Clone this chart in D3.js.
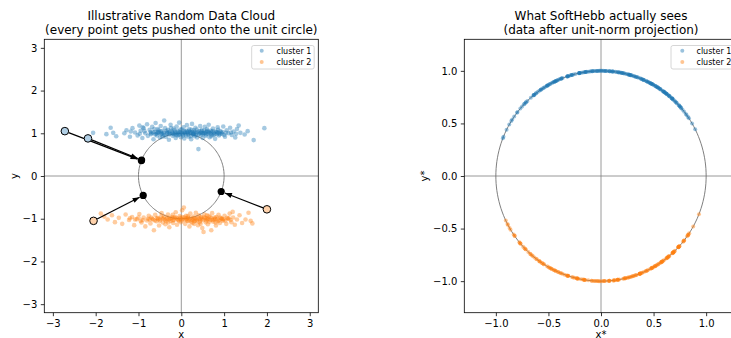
<!DOCTYPE html>
<html><head><meta charset="utf-8">
<script src="https://cdn.jsdelivr.net/npm/d3@7"></script>
<style>html,body{margin:0;padding:0;background:#fff;overflow:hidden}</style>
</head><body><div id="chart"></div>
<script>
// ---- data ----
const cluster1 = [
[-2.06,1.01],[-1.75,0.98],[-1.65,1.13],[-1.59,1.01],[-1.52,0.93],[-1.33,1.00],[-1.28,1.07],[-1.20,0.92],[-1.14,1.12],[-1.08,1.02],
[-1.02,0.95],[-0.98,1.18],[-0.95,1.06],[-0.91,0.89],[-0.88,1.12],[-0.84,1.00],[-0.80,1.21],[-0.78,0.94],[-0.74,1.08],[-0.71,0.98],
[-0.68,1.15],[-0.65,0.86],[-0.62,1.03],[-0.60,1.24],[-0.57,0.95],[-0.55,1.10],[-0.52,1.01],[-0.50,0.90],[-0.48,1.17],[-0.45,1.05],
[-0.43,0.97],[-0.40,1.30],[-0.38,1.12],[-0.36,0.92],[-0.34,1.02],[-0.31,1.08],[-0.29,0.85],[-0.27,0.99],[-0.25,1.20],[-0.22,1.04],
[-0.20,0.94],[-0.18,1.11],[-0.15,1.00],[-0.13,0.89],[-0.11,1.16],[-0.09,1.06],[-0.07,0.96],[-0.05,1.25],[-0.03,1.02],[-0.01,0.91],
[0.01,1.09],[0.03,0.98],[0.05,1.14],[0.07,0.88],[0.09,1.04],[0.11,0.95],[0.13,1.19],[0.15,1.01],[0.17,0.92],[0.19,1.10],
[0.21,1.03],[0.23,0.86],[0.25,1.22],[0.27,0.97],[0.29,1.07],[0.31,0.93],[0.33,1.13],[0.35,1.00],[0.37,0.90],[0.40,0.63],
[0.42,1.05],[0.44,1.17],[0.46,0.96],[0.48,1.08],[0.50,0.89],[0.52,1.01],[0.55,1.15],[0.57,0.94],[0.59,1.04],[0.62,0.99],
[0.64,1.20],[0.66,0.91],[0.69,1.06],[0.71,0.97],[0.74,1.11],[0.76,1.01],[0.79,0.87],[0.82,1.03],[0.85,1.14],[0.88,0.95],
[0.91,1.05],[0.95,0.99],[0.98,1.16],[1.02,0.92],[1.06,1.07],[1.10,1.00],[1.14,1.13],[1.18,0.96],[1.22,1.04],[1.26,0.90],
[1.30,1.10],[1.34,1.18],[1.38,1.01],[1.48,0.97],[1.55,1.05],[1.69,0.84],[1.94,1.12],
[-0.66,1.02],[-0.58,0.99],[-0.53,1.07],[-0.47,0.98],[-0.41,1.01],[-0.35,1.06],[-0.28,0.97],[-0.21,1.01],[-0.16,1.07],[-0.12,0.98],
[-0.06,1.03],[-0.02,1.09],[0.04,0.95],[0.08,1.01],[0.12,1.06],[0.16,0.98],[0.20,1.02],[0.24,1.08],[0.28,0.99],[0.32,1.03],
[0.36,1.09],[0.41,0.98],[0.45,1.02],[0.49,1.00],[0.53,1.06],[0.58,0.97],[0.63,1.03],[0.68,1.00],[0.73,1.05],[0.78,0.98],
[0.84,1.02],[0.90,0.98],[0.96,1.03],[1.04,1.01],[-0.72,1.03],[-0.86,1.05],[-0.97,0.99],[1.16,1.02],[1.28,0.99],[-0.44,0.92],
[0.60,1.10],[0.22,0.93],[-0.24,1.12],[-0.63,1.10],[0.86,1.08],[1.00,0.96],[-1.18,1.04],[-0.90,1.14],[0.70,0.93],[-0.10,0.95],
[-0.70,1.00],[-0.61,0.97],[-0.54,1.03],[-0.46,1.00],[-0.39,0.96],[-0.33,1.00],[-0.26,1.04],[-0.19,0.99],[-0.14,1.03],[-0.08,1.00],
[-0.04,0.97],[0.00,1.02],[0.06,1.05],[0.10,0.99],[0.14,1.03],[0.18,1.06],[0.22,1.00],[0.26,1.03],[0.30,1.01],[0.34,0.96],
[0.38,1.03],[0.43,1.00],[0.47,1.05],[0.51,0.98],[0.56,1.02],[0.61,1.06],[0.65,1.01],[0.70,1.03],[0.75,0.96],[0.80,1.04],
[0.83,0.98],[0.87,1.01],[0.93,1.02],[-0.56,1.02],[-0.48,1.04],[-0.30,1.02],[-0.17,0.97],[0.02,1.00],[0.29,0.98],[0.54,1.00],
[-2.72,1.05],[-2.18,0.88]
];
const cluster2 = [
[-1.88,-0.88],[-1.80,-0.95],[-1.72,-1.02],[-1.62,-0.92],[-1.55,-1.08],[-1.46,-0.98],[-1.38,-1.12],[-1.30,-0.90],[-1.22,-1.03],[-1.15,-0.96],
[-1.10,-1.15],[-1.04,-1.01],[-0.98,-0.89],[-0.93,-1.09],[-0.88,-0.97],[-0.84,-1.18],[-0.80,-1.04],[-0.76,-0.93],[-0.72,-1.11],[-0.68,-1.00],
[-0.64,-1.27],[-0.61,-0.91],[-0.58,-1.06],[-0.55,-0.98],[-0.52,-1.16],[-0.49,-1.02],[-0.46,-0.87],[-0.43,-1.09],[-0.40,-0.95],[-0.37,-1.13],
[-0.34,-1.01],[-0.31,-0.90],[-0.28,-1.20],[-0.25,-1.05],[-0.22,-0.96],[-0.19,-1.10],[-0.16,-0.99],[-0.13,-0.85],[-0.10,-1.14],[-0.07,-1.03],
[-0.04,-0.94],[-0.01,-1.08],[0.02,-0.80],[0.04,-1.00],[0.06,-0.74],[0.09,-1.12],[0.11,-0.93],[0.14,-1.05],[0.16,-0.97],[0.19,-1.18],
[0.21,-0.88],[0.24,-1.02],[0.26,-1.10],[0.29,-0.95],[0.31,-1.06],[0.34,-0.86],[0.36,-1.01],[0.39,-1.15],[0.41,-0.92],[0.44,-1.04],
[0.46,-0.98],[0.49,-1.22],[0.52,-1.31],[0.54,-0.90],[0.57,-1.08],[0.59,-0.99],[0.62,-1.13],[0.64,-0.94],[0.67,-1.03],[0.70,-1.27],
[0.72,-0.87],[0.75,-1.07],[0.78,-0.97],[0.81,-1.16],[0.84,-1.01],[0.87,-0.91],[0.90,-1.10],[0.94,-0.99],[0.97,-1.05],[1.01,-0.93],
[1.05,-1.12],[1.09,-1.00],[1.13,-0.88],[1.17,-1.08],[1.20,-0.84],[1.21,-0.97],[1.25,-1.14],[1.30,-1.02],[1.36,-0.92],[1.42,-1.10],
[1.50,-1.02],[1.57,-0.86],[1.62,-1.05],[1.66,-1.11],
[-0.66,-1.02],[-0.57,-0.99],[-0.50,-1.05],[-0.44,-0.99],[-0.38,-1.03],[-0.32,-0.97],[-0.26,-1.00],[-0.20,-1.04],[-0.15,-0.96],[-0.09,-1.01],
[-0.03,-0.98],[0.01,-1.04],[0.07,-0.97],[0.12,-1.01],[0.17,-1.06],[0.22,-0.98],[0.27,-1.03],[0.32,-0.99],[0.37,-1.05],[0.42,-1.00],
[0.47,-0.96],[0.51,-1.03],[0.56,-0.98],[0.61,-1.02],[0.66,-1.07],[0.71,-0.99],[0.76,-1.02],[0.82,-0.96],[0.88,-1.04],[0.93,-1.00],
[0.99,-1.02],[1.07,-0.98],[1.15,-1.03],[-0.74,-1.02],[-0.90,-1.03],[-1.00,-0.97],[-1.20,-0.99],[0.30,-1.12],[-0.20,-0.91],[0.60,-0.92],
[-0.70,-0.97],[-0.62,-1.04],[-0.54,-1.01],[-0.47,-0.95],[-0.41,-1.00],[-0.35,-1.06],[-0.29,-1.01],[-0.23,-0.99],[-0.17,-1.03],[-0.12,-0.98],
[-0.06,-1.05],[-0.02,-1.00],[0.03,-0.96],[0.08,-1.03],[0.13,-0.99],[0.18,-1.02],[0.23,-1.07],[0.28,-1.00],[0.33,-1.04],[0.38,-0.97],
[0.43,-1.08],[0.48,-1.01],[0.53,-0.97],[0.58,-1.04],[0.63,-1.00],[0.68,-0.96],[0.73,-1.03],[0.79,-1.00],[0.85,-1.06],[0.91,-0.97],
[0.96,-1.01],[1.03,-1.04],[1.11,-0.99],[-0.78,-1.00],[-0.95,-1.05],[-1.08,-1.02],[0.15,-0.94],[0.45,-1.12],[-0.30,-1.09],[0.80,-1.09],
[-2.05,-1.05],[2.00,-0.78]
];
const highlight1 = [[-2.72,1.05],[-2.18,0.88]];
const highlight2 = [[-2.05,-1.05],[2.00,-0.78]];
const ticksLeft = [-3,-2,-1,0,1,2,3];
const ticksRight = [-1.0,-0.5,0.0,0.5,1.0];
const seriesNames = ["cluster 1","cluster 2"];
const titlesLeft = ["Illustrative Random Data Cloud","(every point gets pushed onto the unit circle)"];
const titlesRight = ["What SoftHebb actually sees","(data after unit-norm projection)"];

// ---- drawing ----
const W=731,H=338;
const C1="#1f77b4", C2="#ff7f0e";
const svg=d3.select("#chart").append("svg").attr("width",W).attr("height",H)
  .style("font-family","'DejaVu Sans', sans-serif");
const defs=svg.append("defs");
defs.append("marker").attr("id","ah").attr("viewBox","-8 -4 9 8").attr("refX",0).attr("refY",0)
  .attr("markerWidth",9).attr("markerHeight",8).attr("markerUnits","userSpaceOnUse").attr("orient","auto")
  .append("path").attr("d","M0,0 L-7,-2.6 L-7,2.6 Z").attr("fill","#000");

const norm=p=>{const r=Math.hypot(p[0],p[1]);return [p[0]/r,p[1]/r];};

function panel(opt){
  const x=d3.scaleLinear().domain(opt.dom).range([opt.x0,opt.x1]);
  const y=d3.scaleLinear().domain(opt.dom).range([opt.y1,opt.y0]);
  const g=svg.append("g");
  const cid="clip"+opt.id;
  defs.append("clipPath").attr("id",cid).append("rect")
    .attr("x",opt.x0).attr("y",opt.y0).attr("width",opt.x1-opt.x0).attr("height",opt.y1-opt.y0);
  const plot=g.append("g").attr("clip-path",`url(#${cid})`);
  plot.append("line").attr("x1",opt.x0).attr("x2",opt.x1).attr("y1",y(0)).attr("y2",y(0))
    .attr("stroke","#808080").attr("stroke-width",1).attr("opacity",0.8);
  plot.append("line").attr("y1",opt.y0).attr("y2",opt.y1).attr("x1",x(0)).attr("x2",x(0))
    .attr("stroke","#808080").attr("stroke-width",0.8);
  const circ=d3.range(0,361,2).map(a=>[Math.cos(a*Math.PI/180),Math.sin(a*Math.PI/180)]);
  plot.append("path").attr("d",d3.line().x(d=>x(d[0])).y(d=>y(d[1]))(circ))
    .attr("fill","none").attr("stroke",opt.circColor).attr("stroke-width",opt.circW);
  const fmt=opt.fmt;
  const ax=g.append("g").attr("transform",`translate(0,${opt.y1})`)
    .call(d3.axisBottom(x).tickValues(opt.ticks).tickFormat(fmt).tickSize(3.5).tickPadding(3.5).tickSizeOuter(0));
  const ay=g.append("g").attr("transform",`translate(${opt.x0},0)`)
    .call(d3.axisLeft(y).tickValues(opt.ticks).tickFormat(fmt).tickSize(3.5).tickPadding(3.5).tickSizeOuter(0));
  [ax,ay].forEach(a=>{a.select(".domain").remove();
    a.selectAll("line").attr("stroke","#000").attr("stroke-width",0.8);
    a.selectAll("text").attr("fill","#000").style("font-size","10px").style("font-family","'DejaVu Sans', sans-serif");});
  g.append("rect").attr("x",opt.x0).attr("y",opt.y0).attr("width",opt.x1-opt.x0).attr("height",opt.y1-opt.y0)
    .attr("fill","none").attr("stroke","#000").attr("stroke-width",0.8);
  const cx=x(0);
  opt.titles.forEach((t,i)=>g.append("text").attr("x",cx).attr("y",20+i*13.5).attr("text-anchor","middle")
    .style("font-size","12px").attr("fill","#000").text(t));
  g.append("text").attr("x",cx).attr("y",337.5).attr("text-anchor","middle").style("font-size","10px").text(opt.xl);
  g.append("text").attr("transform",`translate(${opt.ylx},${(opt.y0+opt.y1)/2}) rotate(-90)`)
    .attr("text-anchor","middle").style("font-size","10px").text(opt.yl);
  return {x,y,g,plot};
}

// Left panel
const L=panel({id:"L",dom:[-3.2,3.2],x0:44.3,x1:318.3,y0:39.3,y1:312.7,ticks:ticksLeft,fmt:d3.format("d"),
  titles:titlesLeft,xl:"x",yl:"y",ylx:18,circColor:"#808080",circW:1});
[[cluster1,C1],[cluster2,C2]].forEach(([data,c])=>{
  L.plot.append("g").selectAll("circle").data(data).join("circle")
    .attr("cx",d=>L.x(d[0])).attr("cy",d=>L.y(d[1])).attr("r",2.3).attr("fill",c).attr("opacity",0.4);
});
[highlight1,highlight2].forEach(data=>{
  data.forEach(p=>{
    const q=norm(p);
    const x1=L.x(p[0]),y1=L.y(p[1]),x2=L.x(q[0]),y2=L.y(q[1]);
    const dx=x2-x1,dy=y2-y1,len=Math.hypot(dx,dy);
    L.plot.append("line").attr("x1",x1+dx/len*4).attr("y1",y1+dy/len*4)
      .attr("x2",x2-dx/len*4).attr("y2",y2-dy/len*4)
      .attr("stroke","#000").attr("stroke-width",1.2).attr("marker-end","url(#ah)");
  });
});
[[highlight1,C1],[highlight2,C2]].forEach(([data,c])=>{
  L.plot.append("g").selectAll("circle").data(data).join("circle")
    .attr("cx",d=>L.x(d[0])).attr("cy",d=>L.y(d[1])).attr("r",3.8)
    .attr("fill",d3.interpolateRgb("#fff",c)(0.35)).attr("stroke","#000").attr("stroke-width",1);
  L.plot.append("g").selectAll("circle").data(data.map(norm)).join("circle")
    .attr("cx",d=>L.x(d[0])).attr("cy",d=>L.y(d[1])).attr("r",3.6).attr("fill","#000");
});

// Right panel
const R=panel({id:"R",dom:[-1.3,1.3],x0:464.3,x1:737.7,y0:39.3,y1:312.7,ticks:ticksRight,fmt:d3.format(".1f"),
  titles:titlesRight,xl:"x*",yl:"y*",ylx:428,circColor:"#707070",circW:0.9});
[[cluster1,C1],[cluster2,C2]].forEach(([data,c])=>{
  R.plot.append("g").selectAll("circle").data(data.map(norm)).join("circle")
    .attr("cx",d=>R.x(d[0])).attr("cy",d=>R.y(d[1])).attr("r",2).attr("fill",c).attr("opacity",0.45);
});

function legend(x0,mx,tx){
  const lg=svg.append("g");
  lg.append("rect").attr("x",x0).attr("y",45.5).attr("width",62.5).attr("height",23.5).attr("rx",2)
    .attr("fill","#fff").attr("fill-opacity",0.8).attr("stroke","#cccccc").attr("stroke-width",0.8);
  seriesNames.forEach((n,i)=>{
    lg.append("circle").attr("cx",mx).attr("cy",50.7+i*11.3).attr("r",2).attr("fill",[C1,C2][i]).attr("opacity",0.45);
    lg.append("text").attr("x",tx).attr("y",53.5+i*11.3).style("font-size","8px").attr("fill","#000").text(n);
  });
}
legend(251.7,261.7,276.5);
legend(671,682.3,696.5);
</script></body></html>
